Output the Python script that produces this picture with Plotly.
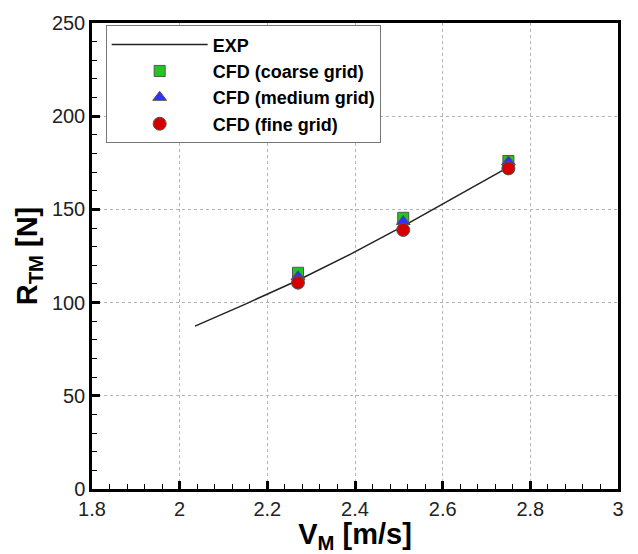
import plotly.graph_objects as go

# Data
exp_v = [2.035, 2.15, 2.27, 2.39, 2.51, 2.63, 2.745]
exp_r = [87.4, 99.2, 112.0, 126.0, 141.0, 157.0, 172.0]

cfd_v = [2.27, 2.51, 2.75]
coarse_r = [116.0, 145.5, 176.0]
medium_r = [114.0, 143.5, 175.5]
fine_r = [110.7, 139.0, 172.0]

x_ticks = [1.8, 2.0, 2.2, 2.4, 2.6, 2.8, 3.0]
x_ticklabels = ["1.8", "2", "2.2", "2.4", "2.6", "2.8", "3"]
y_ticks = [0, 50, 100, 150, 200, 250]

FONT = "Arial, Liberation Sans, sans-serif"

fig = go.Figure()
fig.add_trace(go.Scatter(x=exp_v, y=exp_r, mode="lines", name="EXP",
                         line=dict(color="#222222", width=1.5)))
fig.add_trace(go.Scatter(x=cfd_v, y=coarse_r, mode="markers", name="CFD (coarse grid)",
                         marker=dict(symbol="square", size=11, color="#1ec81e",
                                     line=dict(color="#555555", width=1))))
fig.add_trace(go.Scatter(x=cfd_v, y=medium_r, mode="markers", name="CFD (medium grid)",
                         marker=dict(symbol="triangle-up", size=12, color="#3030ff",
                                     line=dict(color="#555555", width=1))))
fig.add_trace(go.Scatter(x=cfd_v, y=fine_r, mode="markers", name="CFD (fine grid)",
                         marker=dict(symbol="circle", size=13, color="#d40000",
                                     line=dict(color="#555555", width=1))))

axis_common = dict(
    showline=True, linewidth=2.5, linecolor="black", mirror=True,
    ticks="inside", ticklen=8, tickwidth=2.5, tickcolor="black",
    showgrid=True, gridcolor="#b4b4b4", griddash="dot", gridwidth=1,
    zeroline=False,
    tickfont=dict(family=FONT, size=20, color="#222222"),
)

fig.update_xaxes(
    range=[1.8, 3.0], tickvals=x_ticks, ticktext=x_ticklabels,
    minor=dict(dtick=0.04, ticks="inside", ticklen=5, tickwidth=1, tickcolor="black", showgrid=False),
    title=dict(text="V<sub>M</sub> [m/s]", standoff=2,
               font=dict(family=FONT, size=29, color="black", weight="bold")),
    **axis_common,
)
fig.update_yaxes(
    range=[0, 250], tickvals=y_ticks,
    minor=dict(dtick=10, ticks="inside", ticklen=5, tickwidth=1, tickcolor="black", showgrid=False),
    title=dict(text="R<sub>TM</sub> [N]", standoff=6,
               font=dict(family=FONT, size=29, color="black", weight="bold")),
    **axis_common,
)

fig.update_layout(
    width=638, height=554,
    margin=dict(l=92, r=20, t=16, b=63),
    plot_bgcolor="white", paper_bgcolor="white",
    showlegend=True,
    legend=dict(
        x=0.026, y=0.995, xanchor="left", yanchor="top",
        bgcolor="white", bordercolor="#777777", borderwidth=1,
        itemwidth=96, tracegroupgap=0,
        font=dict(family=FONT, size=18, color="black", weight="bold"),
    ),
)

fig.write_html("out.html")
